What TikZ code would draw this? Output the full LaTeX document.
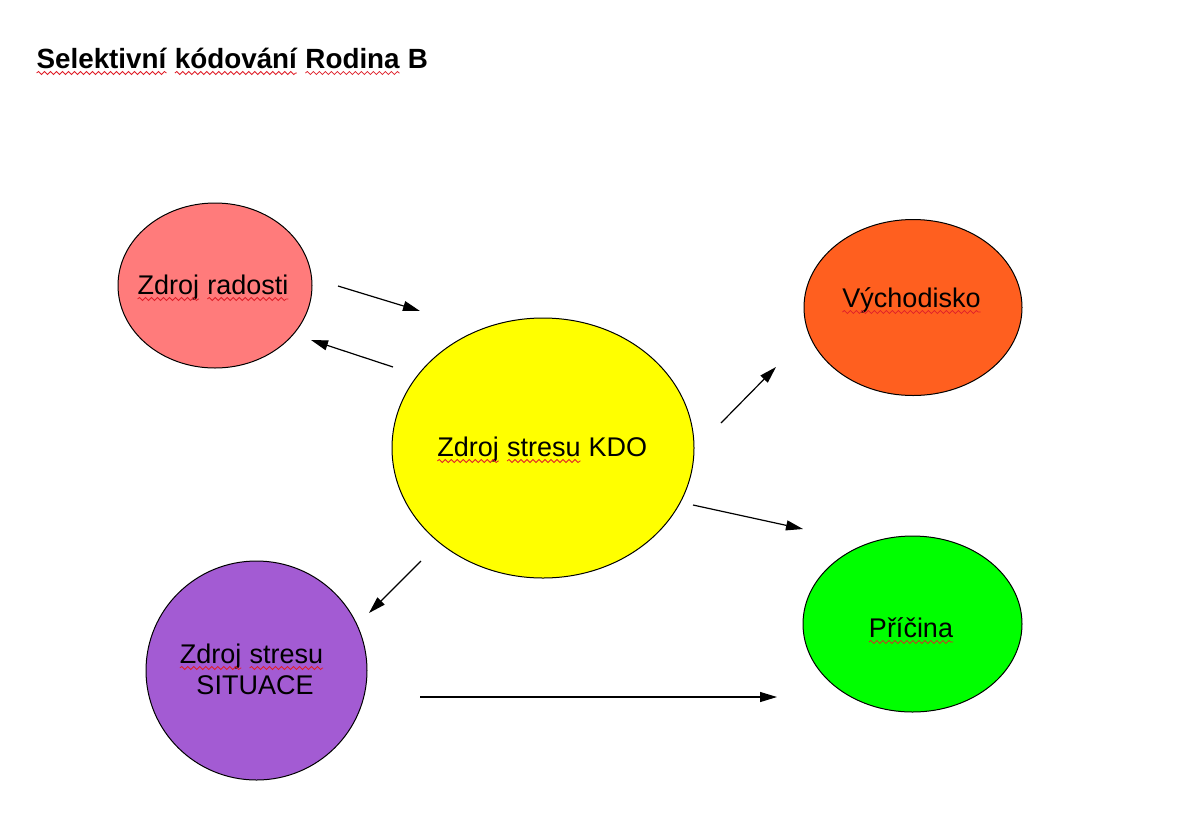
\documentclass[tikz,border=0pt]{standalone}
\usepackage{fontspec}
\setmainfont{Liberation Sans}
\usetikzlibrary{arrows.meta,shapes.geometric,decorations.pathmorphing}
\definecolor{cpink}{HTML}{FF7B7B}
\definecolor{cyellow}{HTML}{FFFF00}
\definecolor{corange}{HTML}{FF5F1F}
\definecolor{cgreen}{HTML}{00FF00}
\definecolor{cpurple}{HTML}{A35BD3}
\definecolor{cspell}{HTML}{E0202A}
\newcommand\spell[1]{\tikz[baseline=(w.base)]{\node[anchor=center,inner sep=0pt,outer sep=0pt,draw=none,fill=none] (w) {#1};
  \draw[cspell, line width=0.8pt, decorate, decoration={snake, amplitude=1.5pt, segment length=6pt}]
   ([yshift=-5pt]w.base west) -- ([yshift=-5pt]w.base east);}}
\tikzset{
  blob/.style={ellipse, draw=black, line width=1pt, inner sep=0pt},
  lbl/.style={anchor=base, inner sep=0pt, font=\fontsize{27}{33}\selectfont},
  arr/.style={line width=1.2pt, -{Triangle[length=17pt,width=10pt]}},
}
\begin{document}
\begin{tikzpicture}[x=1pt,y=-1pt]
\useasboundingbox[fill=white] (0,0) rectangle (1191,823);
% title
\node[anchor=base west, inner sep=0pt, font=\bfseries\fontsize{27.8}{33}\selectfont] (title) at (36,68)
  {\spell{Selektivní} \spell{kódování} \spell{Rodina} B};
% ellipses
\node[blob, fill=cpink, minimum width=194pt, minimum height=165pt] (joy) at (215,285.5) {};
\node[blob, fill=cyellow, minimum width=302pt, minimum height=260pt] (kdo) at (543,448) {};
\node[blob, fill=corange, minimum width=218pt, minimum height=176pt] (vych) at (913,307.5) {};
\node[blob, fill=cgreen, minimum width=219pt, minimum height=176pt] (pric) at (912.5,624) {};
\node[blob, fill=cpurple, minimum width=221pt, minimum height=219pt] (sit) at (256.5,670.5) {};
% labels
\node[lbl] (joyt) at (213,294) {\spell{Zdroj} \spell{radosti}};
\node[lbl] (kdot) at (542,456) {\spell{Zdroj} \spell{stresu} KDO};
\node[lbl] (vycht) at (911.5,307) {\spell{Východisko}};
\node[lbl] (prict) at (911,637) {\spell{Příčina}};
\node[lbl] (sitt1) at (251.5,663) {\spell{Zdroj} \spell{stresu}};
\node[lbl] (sitt2) at (255,694) {SITUACE};
% arrow end points
\coordinate (a1s) at (338,286);  \coordinate (a1e) at (420,311);
\coordinate (a2s) at (393,367);  \coordinate (a2e) at (311,340);
\coordinate (a3s) at (721,423);  \coordinate (a3e) at (776,367);
\coordinate (a4s) at (693,505);  \coordinate (a4e) at (803,529);
\coordinate (a5s) at (421,561);  \coordinate (a5e) at (369,613);
\coordinate (a6s) at (420,697);  \coordinate (a6e) at (777,697);
\draw[arr] (a1s) -- (a1e);
\draw[arr] (a2s) -- (a2e);
\draw[arr] (a3s) -- (a3e);
\draw[arr] (a4s) -- (a4e);
\draw[arr] (a5s) -- (a5e);
\draw[arr] (a6s) -- (a6e);
\end{tikzpicture}
\end{document}
